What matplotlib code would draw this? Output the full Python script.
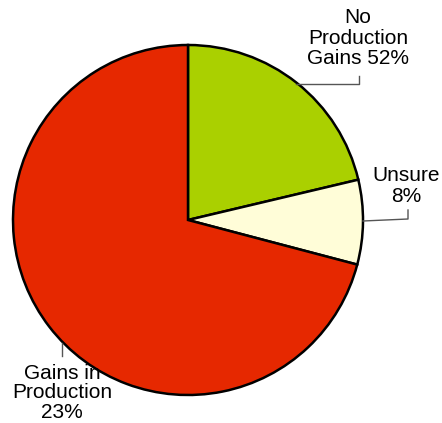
import matplotlib.pyplot as plt

labels = ['No\nProduction\nGains 52%', 'Unsure\n8%', 'Gains in\nProduction\n23%']
values = [21.3, 7.8, 70.9]
colors = ['#aad000', '#fffdd8', '#e62800']

W, H = 442, 423
fig = plt.figure(figsize=(W / 100, H / 100), dpi=100)
ax = fig.add_axes([0, 0, 1, 1])

cx, cy, r = 188, 220, 175
# y axis is flipped below, so counterclock here reads clockwise on screen
wedges, _ = ax.pie(values, colors=colors, startangle=-90, counterclock=True,
                   center=(cx, cy), radius=r, frame=True,
                   wedgeprops=dict(edgecolor='black', linewidth=1.8))
ax.set_xlim(0, W)
ax.set_ylim(H, 0)
ax.set_aspect('equal')
ax.axis('off')

plt.rcParams['font.family'] = ['Liberation Sans', 'DejaVu Sans']
fs = 15
ls = 1.1

# label texts and leader lines
ax.text(358, 38, labels[0], ha='center', va='center', fontsize=fs,
        linespacing=ls, zorder=5)
ax.plot([296, 359, 359], [84, 84, 76], color='#555555', lw=1)

ax.text(406, 186, labels[1], ha='center', va='center', fontsize=fs,
        linespacing=ls, zorder=5)
ax.plot([363, 408, 408], [221, 219, 210], color='#555555', lw=1)

ax.text(62, 393, labels[2], ha='center', va='center', fontsize=fs,
        linespacing=1.02, zorder=5)
ax.plot([62, 62], [343, 356], color='#555555', lw=1)

fig.savefig('out.png', dpi=100)
